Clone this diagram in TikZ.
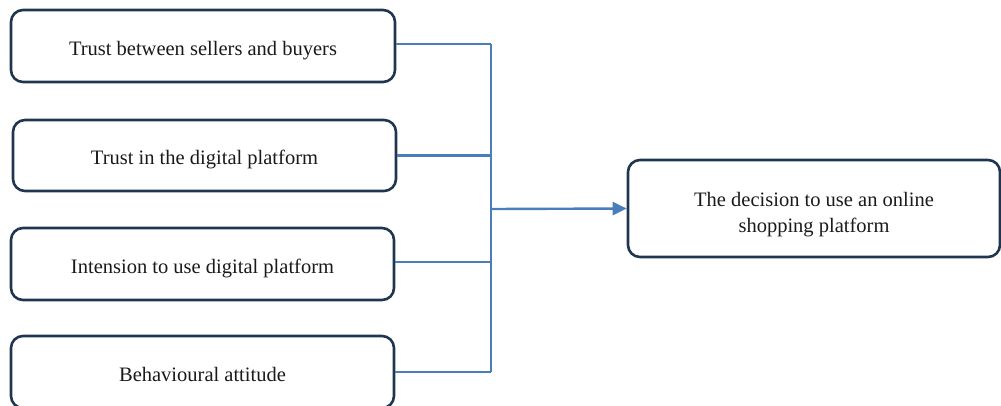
\documentclass[tikz,border=0pt]{standalone}
\usepackage{fontspec}
\setmainfont{Liberation Serif}
\usetikzlibrary{arrows.meta}
\definecolor{boxline}{HTML}{1F3550}
\definecolor{conn}{HTML}{4A7EBB}
\definecolor{txt}{HTML}{1A1A1A}
\tikzset{
  factor/.style={draw=boxline, line width=2.6pt, rounded corners=12pt, rectangle,
    inner sep=0pt, align=center, text=txt, text depth=0pt, text height=18pt, font=\fontsize{20.5}{26.5}\selectfont},
  link/.style={draw=conn, line width=2.4pt},
}
\begin{document}
\begin{tikzpicture}[x=1pt,y=-1pt]
\useasboundingbox (0,0) rectangle (1001,405);
\node[factor, minimum width=384pt, minimum height=72pt] (b1) at (203,46) {Trust between sellers and buyers};
\node[factor, minimum width=383pt, minimum height=71pt] (b2) at (204.5,155.5) {Trust in the digital platform};
\node[factor, minimum width=383pt, minimum height=72pt] (b3) at (202.5,264) {Intension to use digital platform};
\node[factor, minimum width=383pt, minimum height=72pt] (b4) at (202.5,372) {Behavioural attitude};
\node[factor, text height=48pt, minimum width=372pt, minimum height=97pt] (dec) at (814,208.5) {The decision to use an online\\shopping platform};
\coordinate (bus) at (491,209);
\coordinate (e1) at ([yshift=2pt]b1.east);
\coordinate (e3) at ([yshift=2pt]b3.east);
\draw[link] (e1) -- (e1 -| bus);
\draw[link] (b2.east) -- (b2.east -| bus);
\draw[link] (e3) -- (e3 -| bus);
\draw[link] (b4.east) -- (b4.east -| bus);
\draw[link] (e1 -| bus) -- (b4.east -| bus);
\draw[link, -{Triangle[length=14pt,width=13pt]}] (bus) -- (dec.west);
\end{tikzpicture}
\end{document}
